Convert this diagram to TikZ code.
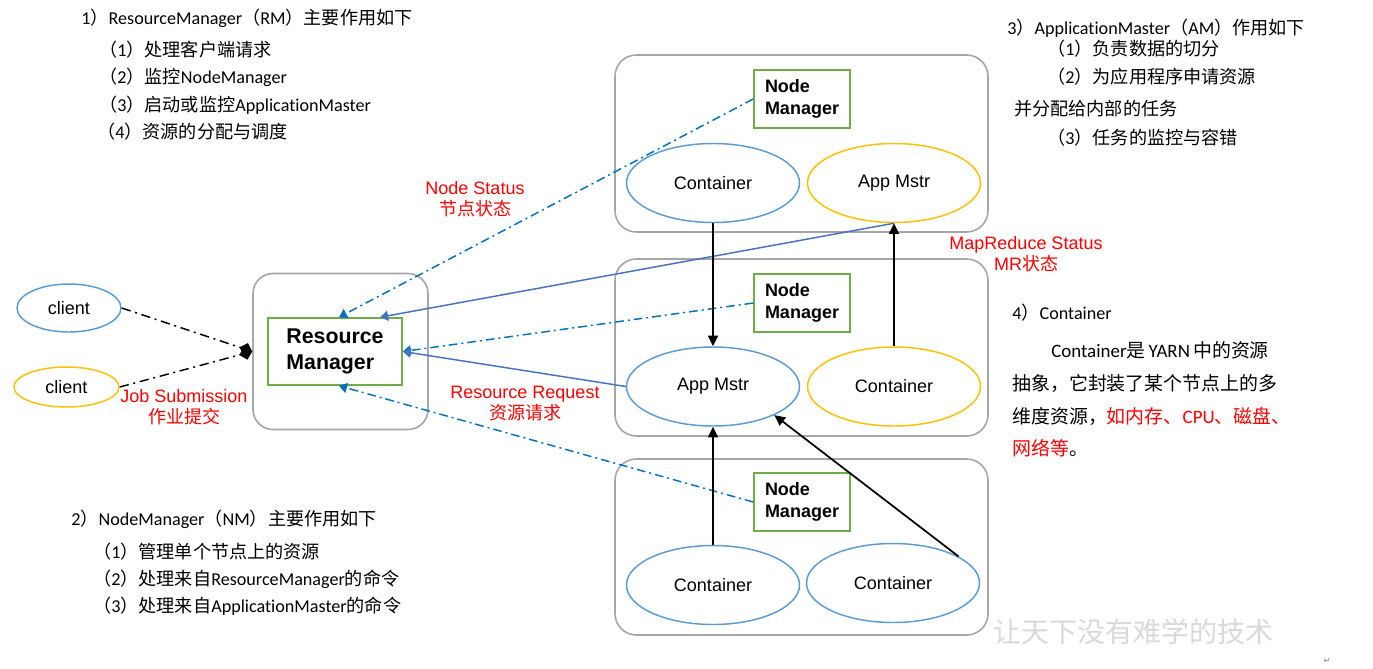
\documentclass[tikz,border=0pt]{standalone}
\usepackage{fontspec}
\setmainfont[Ligatures={NoCommon,NoContextual}]{Carlito}
\newfontfamily\cjk{Noto Sans CJK SC}
\newfontfamily\arial{Liberation Sans}
\newfontfamily\dejavu{DejaVu Sans}
\usetikzlibrary{shapes.geometric,arrows.meta,calc}
\newcommand{\zh}[1]{{\cjk #1}}
\definecolor{ebl}{HTML}{5B9BD5}
\definecolor{eor}{HTML}{FFC000}
\definecolor{grn}{HTML}{70AD47}
\definecolor{boxg}{HTML}{A6A6A6}
\definecolor{ddb}{HTML}{0070C0}
\definecolor{sbl}{HTML}{4472C4}
\definecolor{wmc}{HTML}{D9D9D9}
\definecolor{redt}{HTML}{FF0000}
\tikzset{
  hostbox/.style={draw=boxg, line width=1.2pt, rounded corners=16pt, inner sep=0pt},
  nmbox/.style={draw=grn, line width=1.2pt, minimum width=72pt, minimum height=43.5pt, inner sep=0pt,
     align=left, font=\arial\bfseries\fontsize{13.5pt}{16.5pt}\selectfont},
  rmbox/.style={draw=grn, line width=1.2pt, minimum width=100.5pt, minimum height=50.25pt, inner sep=0pt,
     align=left, font=\arial\bfseries\fontsize{16pt}{19.5pt}\selectfont},
  ell/.style={ellipse, line width=1.1pt, minimum width=129.75pt, minimum height=59.25pt, inner sep=0pt,
     font=\arial\fontsize{13.5pt}{16pt}\selectfont},
  blueell/.style={ell, draw=ebl},
  orell/.style={ell, draw=eor},
  nmline/.style={draw=ddb, line width=1.1pt, dash pattern=on 6.5pt off 3pt on 1.5pt off 3pt,
     -{Triangle[length=6pt,width=7.5pt]}},
  amline/.style={draw=sbl, line width=1.1pt, -{Triangle[length=6pt,width=7.5pt]}},
  blkarrow/.style={draw=black, line width=1.3pt, -{Triangle[length=8pt,width=7.5pt]}},
  jobline/.style={draw=black, line width=1.1pt, dash pattern=on 7pt off 3.5pt on 1.5pt off 3.5pt,
     -{Diamond[length=10pt,width=10pt]}},
  redlabel/.style={text=redt, align=center, inner sep=0pt, font=\arial\fontsize{13.5pt}{15.75pt}\selectfont},
  txt/.style={anchor=west, inner sep=0pt, font=\fontsize{13.6pt}{15pt}\selectfont},
  txtb/.style={anchor=west, inner sep=0pt, font=\fontsize{14.2pt}{16pt}\selectfont},
}
\begin{document}
\begin{tikzpicture}[x=0.75pt,y=-0.75pt]
\fill[white] (0,0) rectangle (1373,668);
\useasboundingbox (0,0) rectangle (1373,668);

% host boxes
\node[hostbox, minimum width=279.75pt, minimum height=132.75pt] (host1) at (801.5,143.5) {};
\node[hostbox, minimum width=279.75pt, minimum height=132.75pt] (host2) at (801.5,347.5) {};
\node[hostbox, minimum width=279.75pt, minimum height=132pt] (host3) at (801.5,547) {};
\node[hostbox, rounded corners=15pt, minimum width=131.25pt, minimum height=117pt] (rmouter) at (340.5,351.5) {};

% resource manager
\node[rmbox] (rm) at (335,351.5) {Resource\\Manager};

% node managers
\node[nmbox] (nm1) at (802,99) {Node\\Manager};
\node[nmbox] (nm2) at (802,303) {Node\\Manager};
\node[nmbox] (nm3) at (802,502) {Node\\Manager};

% ellipses
\node[blueell] (c1) at (713,183) {Container};
\node[orell] (am1) at (894,183) {App Mstr};
\node[blueell] (am2) at (713,386.5) {App Mstr};
\node[orell] (c2) at (894,386.5) {Container};
\node[blueell] (c3) at (713,585) {Container};
\node[blueell] (c4) at (893,583) {Container};

% clients
\node[ellipse, draw=ebl, line width=1.1pt, minimum width=78pt, minimum height=36pt, inner sep=0pt,
      font=\arial\fontsize{13.5pt}{16pt}\selectfont] (cl1) at (69,308) {client};
\node[ellipse, draw=eor, line width=1.1pt, minimum width=78.75pt, minimum height=30pt, inner sep=0pt,
      font=\arial\fontsize{13.5pt}{16pt}\selectfont] (cl2) at (66.5,387) {client};

% connectors
\draw[jobline] (cl1.east) -- (rmouter.west);
\draw[jobline] (cl2.east) -- (rmouter.west);
\draw[nmline] (nm1.west) -- ([xshift=3pt]rm.north);
\draw[nmline] (nm2.west) -- (rm.east);
\draw[nmline] (nm3.west) -- ([xshift=3pt]rm.south);
\draw[amline] (am1.south) -- ([xshift=-17pt]rm.north east);
\draw[amline] (am2.west) -- (rm.east);
\draw[blkarrow] (c1.south) -- (am2.north);
\draw[blkarrow] (c2.north) -- (am1.south);
\draw[blkarrow] (c3.north) -- (am2.south);
\draw[blkarrow] (c4.22) -- (am2.-25);

% red labels
\node[redlabel] (lns) at (475,199) {Node Status\\\zh{节点状态}};
\node[redlabel] (lmr) at (1026,254) {MapReduce Status\\MR\zh{状态}};
\node[redlabel] (ljs) at (184,407) {Job Submission\\\zh{作业提交}};
\node[redlabel] (lrr) at (525,404) {Resource Request\\\zh{资源请求}};

% text: RM
\node[txt] (r0) at (81,18) {1\zh{）}ResourceManager\zh{（}RM\zh{）主要作用如下}};
\node[txt] (r1) at (99,50) {\zh{（}1\zh{）处理客户端请求}};
\node[txt] (r2) at (99,77) {\zh{（}2\zh{）监控}NodeManager};
\node[txt] (r3) at (99,105) {\zh{（}3\zh{）启动或监控}ApplicationMaster};
\node[txt] (r4) at (97,132) {\zh{（}4\zh{）资源的分配与调度}};

% text: AM
\node[txt] (a0) at (1007,28) {3\zh{）}ApplicationMaster\zh{（}AM\zh{）作用如下}};
\node[txt] (a1) at (1047,49) {\zh{（}1\zh{）负责数据的切分}};
\node[txt] (a2) at (1047,77) {\zh{（}2\zh{）为应用程序申请资源}};
\node[txt] (a3) at (1014,109) {\zh{并分配给内部的任务}};
\node[txt] (a4) at (1047,138) {\zh{（}3\zh{）任务的监控与容错}};

% text: Container
\node[txt] (k0) at (1012,313) {4\zh{）}Container};
\node[txtb] (k1) at (1051,350) {Container\zh{是}\,YARN\,\zh{中的资源}};
\node[txtb] (k2) at (1012,383) {\zh{抽象，它封装了某个节点上的多}};
\node[txtb] (k3) at (1012,416) {\zh{维度资源，}\textcolor{redt}{\zh{如内存、}CPU\zh{、磁盘、}}};
\node[txtb] (k4) at (1012,448) {\textcolor{redt}{\zh{网络等}}\zh{。}};

% text: NM
\node[txt] (n0) at (71,519) {2\zh{）}NodeManager\zh{（}NM\zh{）主要作用如下}};
\node[txt] (n1) at (93,552) {\zh{（}1\zh{）管理单个节点上的资源}};
\node[txt] (n2) at (93,579) {\zh{（}2\zh{）处理来自}ResourceManager\zh{的命令}};
\node[txt] (n3) at (93,606) {\zh{（}3\zh{）处理来自}ApplicationMaster\zh{的命令}};

% watermark and mark
\node[anchor=west, inner sep=0pt, text=wmc, font=\cjk\fontsize{21pt}{24pt}\selectfont] (wm) at (993,632) {让天下没有难学的技术};
\node[inner sep=0pt, text=gray, font=\dejavu\fontsize{6pt}{6pt}\selectfont] (pm) at (1327,661) {↵};
\end{tikzpicture}
\end{document}
